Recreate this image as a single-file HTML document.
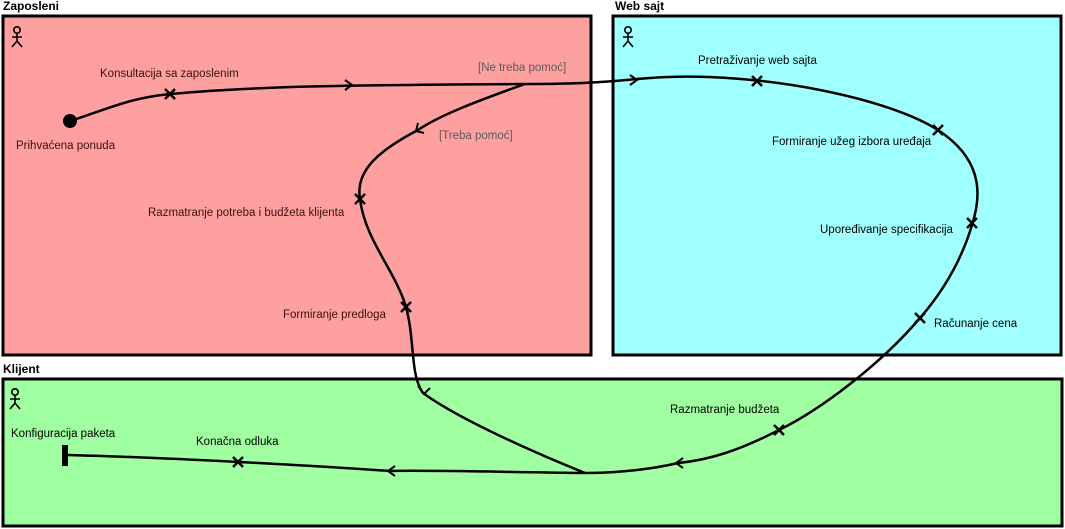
<!DOCTYPE html>
<html><head><meta charset="utf-8"><style>
body{margin:0;background:#fff;width:1065px;height:529px;overflow:hidden}
svg{display:block}
text{font-family:"Liberation Sans","DejaVu Sans",sans-serif;font-size:11.5px}
.h{font-weight:bold;font-size:12px;fill:#000}
.r{fill:#3a1010}
.g{fill:#000}
.gd{fill:#5a5a5a}
</style></head><body>
<svg width="1065" height="529" viewBox="0 0 1065 529">
<defs>
<g id="act" stroke="#000" stroke-width="1.6" fill="none"><circle cx="0" cy="-7" r="3.2"/><path d="M0,-4V4M-5,0H5M0,4L-5,10M0,4L5,10"/></g>
<g id="x" stroke="#000" stroke-width="2.5"><path d="M-5,-5L5,5M-5,5L5,-5"/></g>
</defs>
<text class="h" x="3" y="10">Zaposleni</text>
<rect x="3" y="16" width="588" height="339" fill="#ffa0a0" stroke="#000" stroke-width="3"/>
<text class="h" x="615" y="10">Web sajt</text>
<rect x="613" y="16" width="448" height="339" fill="#a0ffff" stroke="#000" stroke-width="3"/>
<text class="h" x="3" y="373">Klijent</text>
<rect x="3" y="379" width="1059" height="147" fill="#a0ffa0" stroke="#000" stroke-width="3"/>
<use href="#act" x="17" y="37"/><use href="#act" x="628" y="37"/><use href="#act" x="15" y="399"/>
<g fill="none" stroke="#000" stroke-width="2.5">
<path d="M70,121 C110,108 130,98 170,94 C260,86 350,85 525,84 C600,84 620,80 650,78 C760,70 900,100 945,135 C985,165 980,200 972,225 C960,265 940,295 920,318 C880,365 820,410 779,430 C740,450 710,460 678,463 C640,472 600,473 585,473 C500,472 430,470 390,471 C330,467 280,464 238,462 C160,458 110,456 65,455"/>
<path d="M525,84 C480,100 440,115 418,130 C380,150 355,170 360,199 C365,240 395,270 406,307 C415,340 410,375 423,393 C460,420 540,455 585,473"/>
</g>
<circle cx="70" cy="121" r="7" fill="#000"/>
<rect x="62" y="445" width="6" height="21" fill="#000"/>
<use href="#x" x="170" y="94"/><use href="#x" x="757" y="81"/><use href="#x" x="938" y="130"/><use href="#x" x="972" y="223"/><use href="#x" x="920" y="318"/><use href="#x" x="779" y="430"/><use href="#x" x="238" y="462"/><use href="#x" x="360" y="199"/><use href="#x" x="406" y="307"/>
<g fill="none" stroke="#000" stroke-width="2">
<path d="M345,80L352,85L345,90"/><path d="M630,75L637,80L630,85"/><path d="M683,458L676,463L683,468"/><path d="M395,466L388,471L395,476"/><path d="M418,123L416,131L424,133"/><path d="M418,386L424,394L430,388"/>
</g>
<text class="r" x="100" y="77">Konsultacija sa zaposlenim</text>
<text class="r" x="16" y="149">Prihvaćena ponuda</text>
<text class="gd" x="478" y="71">[Ne treba pomoć]</text>
<text class="gd" x="439" y="139">[Treba pomoć]</text>
<text class="r" x="148" y="216">Razmatranje potreba i budžeta klijenta</text>
<text class="r" x="283" y="318">Formiranje predloga</text>
<text class="g" x="698" y="64">Pretraživanje web sajta</text>
<text class="g" x="772" y="145">Formiranje užeg izbora uređaja</text>
<text class="g" x="820" y="233">Upoređivanje specifikacija</text>
<text class="g" x="934" y="327">Računanje cena</text>
<text class="g" x="670" y="413">Razmatranje budžeta</text>
<text class="g" x="11" y="437">Konfiguracija paketa</text>
<text class="g" x="196" y="445">Konačna odluka</text>
</svg>
</body></html>
